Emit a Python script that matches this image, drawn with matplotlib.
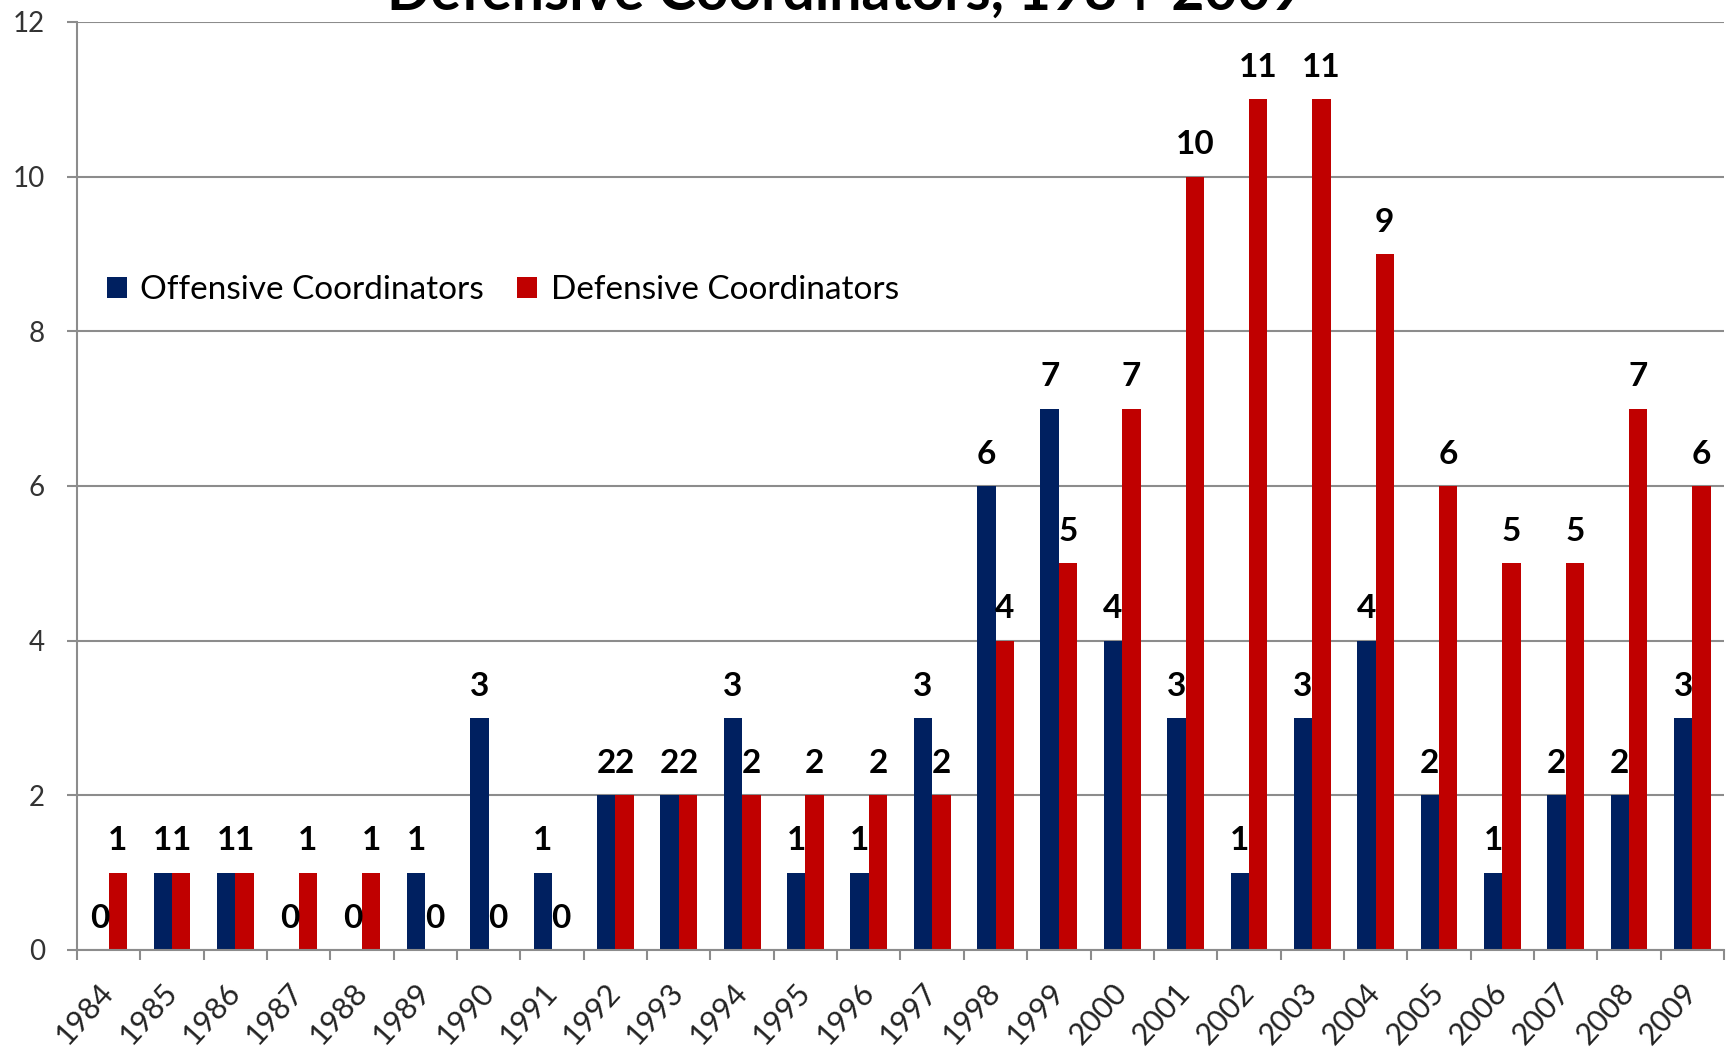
import numpy as np
import matplotlib
matplotlib.use("Agg")
import matplotlib.pyplot as plt
from matplotlib.ticker import MultipleLocator

# Data
years = [str(y) for y in range(1984, 2010)]
offensive = [0, 1, 1, 0, 0, 1, 3, 1, 2, 2, 3, 1, 1, 3, 6, 7, 4, 3, 1, 3, 4, 2, 1, 2, 2, 3]
defensive = [1, 1, 1, 1, 1, 0, 0, 0, 2, 2, 2, 2, 2, 2, 4, 5, 7, 10, 11, 11, 9, 6, 5, 5, 7, 6]

BLUE = "#002060"
RED = "#C00000"
GRID = "#8c8c8c"

plt.rcParams["font.family"] = ["Lato", "DejaVu Sans"]

fig = plt.figure(figsize=(17.33, 10.51), dpi=100)
ax = fig.add_axes([77 / 1733, 1 - 950 / 1051, (1724 - 77) / 1733, (950 - 22) / 1051])

x = np.arange(len(years))
w = 0.29
b1 = ax.bar(x - w / 2, offensive, w, color=BLUE, label="Offensive Coordinators")
b2 = ax.bar(x + w / 2, defensive, w, color=RED, label="Defensive Coordinators")

# value labels above each bar
for bars, vals in ((b1, offensive), (b2, defensive)):
    for rect, v in zip(bars, vals):
        ax.annotate(str(v), (rect.get_x() + rect.get_width() / 2, v),
                    xytext=(0, 23), textcoords="offset points",
                    ha="center", va="center", fontsize=24, fontweight="bold",
                    color="black")

ax.set_xlim(-0.5, len(years) - 0.5)
ax.set_ylim(0, 12)
ax.yaxis.set_major_locator(MultipleLocator(2))
ax.grid(axis="y", color=GRID, linewidth=1.5)
ax.set_axisbelow(True)

for side in ("top", "right"):
    ax.spines[side].set_visible(False)
for side in ("left", "bottom"):
    ax.spines[side].set_color(GRID)
    ax.spines[side].set_linewidth(1.5)

ax.tick_params(axis="y", length=7, width=1.5, color=GRID, pad=16,
               labelsize=20, labelcolor="#333333")
# x: tick marks between groups, labels at group centers
ax.set_xticks(x)
ax.set_xticklabels(years, rotation=48, ha="right", va="center",
                   rotation_mode="anchor", fontsize=22, color="#222222")
ax.tick_params(axis="x", which="major", length=0, pad=27)
ax.set_xticks(np.arange(len(years) + 1) - 0.5, minor=True)
ax.tick_params(axis="x", which="minor", length=7, width=1.5, color=GRID)

ax.legend(loc="center left", bbox_to_anchor=(0.01, 0.711), frameon=False,
          ncol=2, fontsize=24, handlelength=0.6, handleheight=0.6,
          handletextpad=0.4, columnspacing=1.0, borderaxespad=0)

# title is cut off at the top edge of the image
fig.text(845 / 1733, 1 - 10 / 1051, "Defensive Coordinators, 1984-2009",
         ha="center", va="baseline", fontsize=41, fontweight="bold")

fig.savefig("out.png", dpi=100)
